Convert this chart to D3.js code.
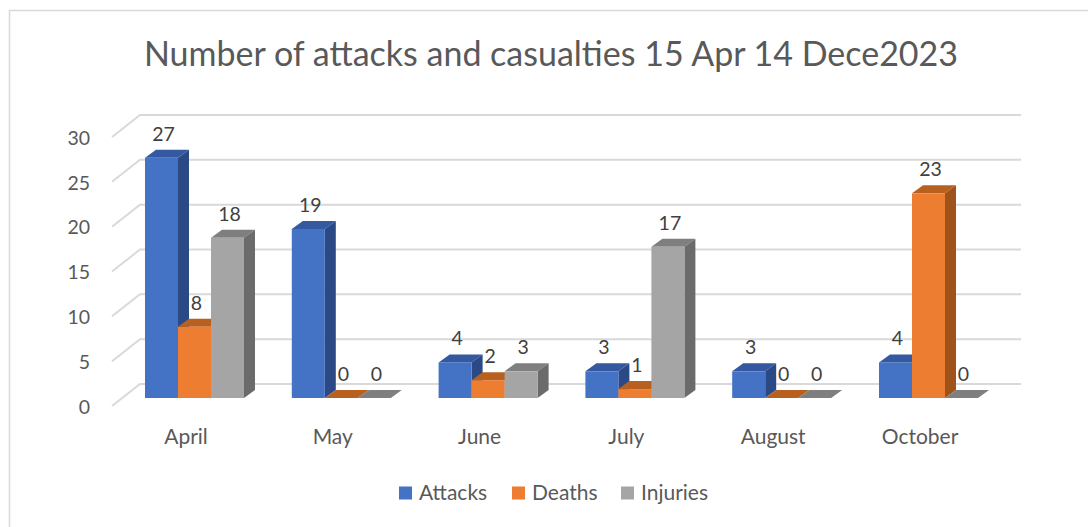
<!DOCTYPE html>
<html>
<head>
<meta charset="utf-8">
<script src="https://cdn.jsdelivr.net/npm/d3@7"></script>
<style>
  body { margin: 0; background: #fff; }
  svg { display: block; font-family: Lato, "Liberation Sans", sans-serif; }
</style>
</head>
<body>
<div id="chart"></div>
<script>
// chart data
const months = ["April", "May", "June", "July", "August", "October"];
const seriesNames = ["Attacks", "Deaths", "Injuries"];
const attacks = [27, 19, 4, 3, 3, 4];
const deaths = [8, 0, 2, 1, 0, 23];
const injuries = [18, 0, 3, 17, 0, 0];
const yTicks = [0, 5, 10, 15, 20, 25, 30];

const width = 1088, height = 527;
const depth = {dx: 11, dy: -8};      // bar depth offset
const wall = {dx: 28, dy: -22};      // floor depth for the grid

const colors = {
    Attacks: {front: "#4472C4", top: "#3459a0", side: "#2b4a85"},
    Deaths: {front: "#ED7D31", top: "#b8601f", side: "#a0521b"},
    Injuries: {front: "#A5A5A5", top: "#7f7f7f", side: "#6b6b6b"}
};

const data = months.map((m, i) => ({
    month: m,
    values: [
        {key: "Attacks", value: attacks[i]},
        {key: "Deaths", value: deaths[i]},
        {key: "Injuries", value: injuries[i]}
    ]
}));

const svg = d3.select("#chart").append("svg")
    .attr("width", width)
    .attr("height", height);

// outer frame
svg.append("rect")
    .attr("x", 9.5).attr("y", 10.5)
    .attr("width", width + 20).attr("height", height + 20)
    .attr("fill", "none")
    .attr("stroke", "#d9d9d9")
    .attr("stroke-width", 1.5);

// title
svg.append("text")
    .attr("x", 551).attr("y", 66)
    .attr("text-anchor", "middle")
    .attr("font-size", 34)
    .attr("fill", "#595959")
    .text("Number of attacks and casualties 15 Apr 14 Dece2023");

// scales
const yFront = d3.scaleLinear().domain([0, 30]).range([398, 131]);
const yWall = d3.scaleLinear().domain([0, 30]).range([384, 115]);
const x0 = d3.scalePoint().domain(months).range([194.5, 928.5]);
const x1 = d3.scaleBand().domain(seriesNames).range([-49.5, 49.5]);

// back wall gridlines with floor diagonals
const grid = svg.append("g");
yTicks.forEach(t => {
    const y = yWall(t);
    grid.append("path")
        .attr("d", `M${140 - wall.dx},${y - wall.dy} L140,${y} L1021,${y}`)
        .attr("fill", "none")
        .attr("stroke", "#d9d9d9")
        .attr("stroke-width", 2);
});

// y axis labels
svg.append("g").selectAll("text")
    .data(yTicks)
    .join("text")
    .attr("x", 90)
    .attr("y", d => yWall(d) + 23)
    .attr("dy", "0.35em")
    .attr("text-anchor", "end")
    .attr("font-size", 19.5)
    .attr("fill", "#595959")
    .text(d => d);

// 3d bars
const bars = svg.append("g");
data.forEach(g => {
    g.values.forEach(d => {
        const xl = x0(g.month) + x1(d.key);
        const xr = xl + x1.bandwidth();
        const yb = yFront(0);
        const yt = yFront(d.value);
        const c = colors[d.key];
        const b = bars.append("g");
        // top
        b.append("path")
            .attr("d", `M${xl},${yt} L${xl + depth.dx},${yt + depth.dy} L${xr + depth.dx},${yt + depth.dy} L${xr},${yt} Z`)
            .attr("fill", c.top);
        // side
        b.append("path")
            .attr("d", `M${xr},${yt} L${xr + depth.dx},${yt + depth.dy} L${xr + depth.dx},${yb + depth.dy} L${xr},${yb} Z`)
            .attr("fill", c.side);
        // front
        b.append("rect")
            .attr("x", xl).attr("y", yt)
            .attr("width", xr - xl).attr("height", yb - yt)
            .attr("fill", c.front);
        // value label
        b.append("text")
            .attr("x", (xl + xr) / 2 + 2)
            .attr("y", yt - 24)
            .attr("dy", "0.35em")
            .attr("text-anchor", "middle")
            .attr("font-size", 19.5)
            .attr("fill", "#404040")
            .text(d.value);
    });
});

// category labels
svg.append("g").selectAll("text")
    .data(months)
    .join("text")
    .attr("x", d => x0(d) - 8.5)
    .attr("y", 437)
    .attr("dy", "0.35em")
    .attr("text-anchor", "middle")
    .attr("font-size", 21)
    .attr("fill", "#595959")
    .text(d => d);

// legend
const legendX = [399, 512, 621];
const legend = svg.append("g").selectAll("g")
    .data(seriesNames)
    .join("g")
    .attr("transform", (d, i) => `translate(${legendX[i]},493)`);

legend.append("rect")
    .attr("x", 0).attr("y", -6.5)
    .attr("width", 13).attr("height", 13)
    .attr("fill", d => colors[d].front);

legend.append("text")
    .attr("x", 20)
    .attr("dy", "0.35em")
    .attr("font-size", 21)
    .attr("fill", "#595959")
    .text(d => d);
</script>
</body>
</html>
